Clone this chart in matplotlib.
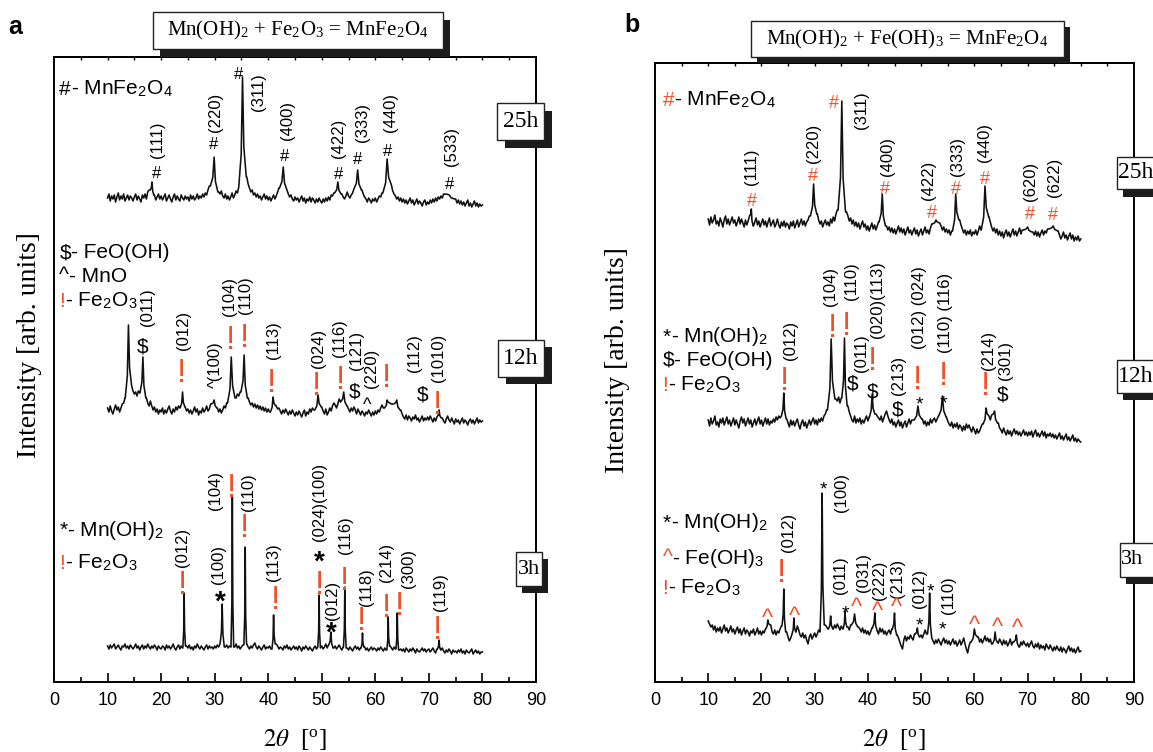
import numpy as np
import matplotlib.pyplot as plt
from matplotlib.patches import Rectangle
from matplotlib.offsetbox import TextArea, HPacker, AnnotationBbox

plt.rcParams['font.family'] = ['Liberation Sans', 'DejaVu Sans']
plt.rcParams['mathtext.fontset'] = 'stix'

W, H = 1153, 752
RED = '#f0502a'
SERIF = ['Liberation Serif', 'DejaVu Serif']

# 2-theta grid of the background readings (10..80 deg, 0.25 deg step)
grid = np.arange(10, 80.001, 0.25)

# ---------------- (a) Mn(OH)2 + Fe2O3 ----------------
a25_base = [484, 488, 481, 486, 483, 487, 480, 485, 489, 482, 486, 483, 488, 481, 484, 487, 482, 486, 484, 481,
            485, 488, 482, 486, 483, 480, 487, 484, 488, 483, 490, 492, 486, 489, 484, 487, 482, 485, 488, 483,
            486, 482, 485, 488, 481, 484, 487, 483, 480, 485, 488, 482, 486, 483, 481, 487, 484, 482, 486, 483,
            485, 481, 487, 483, 486, 482, 484, 488, 483, 486, 484, 488, 485, 489, 487, 492, 496, 500, 503, 510,
            508, 500, 494, 490, 488, 491, 486, 484, 488, 483, 486, 482, 485, 489, 484, 487, 491, 489, 495, 502,
            515, 520, 525, 512, 505, 498, 494, 490, 492, 487, 489, 485, 488, 484, 486, 482, 485, 488, 483, 486,
            482, 485, 481, 484, 487, 483, 486, 490, 494, 500, 510, 515, 505, 498, 492, 488, 485, 487, 483, 481,
            485, 482, 484, 480, 483, 486, 481, 484, 479, 483, 481, 485, 480, 484, 482, 479, 483, 480, 484, 481,
            479, 483, 480, 484, 481, 485, 482, 487, 486, 489, 495, 500, 490, 487, 484, 488, 485, 483, 486, 490,
            486, 484, 487, 489, 493, 500, 508, 505, 498, 495, 492, 488, 485, 483, 480, 484, 482, 479, 483, 481,
            484, 480, 483, 486, 485, 489, 493, 500, 510, 520, 515, 505, 497, 491, 488, 486, 483, 485, 481, 484,
            480, 483, 479, 482, 478, 481, 484, 479, 482, 477, 480, 483, 478, 481, 479, 476, 480, 482, 477, 480,
            478, 482, 479, 483, 480, 484, 481, 485, 483, 486, 484, 488, 490, 487, 489, 486, 484, 487, 483, 481,
            483, 479, 482, 478, 481, 477, 480, 476, 479, 482, 476, 479, 475, 478, 481, 476, 479, 475, 478, 476,
            477]
a25_peaks = [(18.3, 500, 0.35), (29.9, 525, 0.7), (35.2, 605, 0.7), (42.8, 515, 0.7),
             (53.0, 500, 0.6), (56.7, 512, 0.7), (62.2, 523, 0.8), (73.8, 487, 1.0)]

a12_base = [274, 270, 276, 271, 268, 273, 277, 272, 275, 270, 274, 278, 279, 284, 300, 320, 330, 310, 296, 291,
            288, 290, 286, 291, 289, 294, 298, 310, 320, 284, 279, 276, 281, 276, 272, 275, 270, 273, 268, 272,
            270, 274, 268, 272, 269, 273, 276, 271, 268, 273, 270, 275, 272, 276, 274, 300, 290, 284, 275, 271,
            273, 269, 272, 268, 271, 275, 270, 273, 267, 271, 269, 274, 270, 272, 276, 271, 273, 278, 282, 280,
            279, 276, 274, 270, 273, 269, 272, 276, 274, 279, 283, 300, 320, 310, 295, 287, 284, 288, 286, 290,
            293, 300, 310, 300, 288, 284, 280, 277, 279, 275, 278, 274, 277, 273, 276, 272, 275, 271, 274, 270,
            273, 270, 275, 271, 278, 283, 276, 273, 274, 271, 268, 272, 269, 273, 270, 267, 271, 268, 272, 269,
            266, 270, 267, 271, 268, 265, 269, 272, 266, 270, 268, 273, 270, 274, 272, 277, 280, 285, 282, 278,
            275, 271, 268, 273, 267, 270, 274, 271, 276, 279, 277, 274, 278, 283, 280, 287, 282, 285, 279, 276,
            273, 270, 274, 271, 275, 272, 268, 273, 270, 267, 271, 269, 266, 270, 268, 272, 269, 266, 270, 267,
            271, 268, 272, 270, 274, 277, 274, 275, 272, 276, 279, 279, 278, 278, 276, 279, 274, 271, 268, 272,
            268, 265, 263, 267, 262, 266, 264, 261, 265, 263, 267, 262, 264, 260, 263, 266, 261, 264, 262, 265,
            262, 266, 263, 260, 264, 261, 265, 262, 263, 260, 264, 261, 259, 263, 266, 262, 260, 264, 261, 258,
            263, 260, 262, 258, 261, 264, 259, 262, 260, 257, 261, 263, 259, 262, 258, 261, 264, 259, 262, 260,
            261]
a12_peaks = [(13.9, 357, 0.6), (16.6, 325, 0.55), (24.0, 290, 0.45), (29.9, 282, 0.5),
             (33.1, 325, 0.7), (35.5, 327, 0.6), (40.9, 285, 0.5), (49.3, 287, 0.6),
             (54.1, 290, 0.6), (62.2, 282, 0.5), (64.0, 282, 0.6), (71.9, 272, 0.4)]

a3_base = [36, 33, 37, 34, 36, 38, 33, 35, 37, 34, 32, 36, 35, 38, 34, 36, 33, 37, 35, 33,
           35, 38, 34, 36, 32, 35, 37, 33, 36, 34, 38, 35, 33, 36, 34, 37, 35, 32, 36, 34,
           33, 36, 35, 32, 37, 34, 36, 33, 35, 38, 34, 32, 35, 37, 33, 36, 34, 35, 33, 36,
           34, 37, 33, 35, 32, 36, 34, 38, 35, 33, 36, 34, 32, 35, 37, 33, 36, 34, 35, 33,
           36, 34, 37, 35, 38, 33, 36, 38, 35, 37, 34, 36, 35, 33, 37, 35, 38, 34, 36, 33,
           35, 37, 34, 36, 38, 35, 33, 36, 34, 37, 39, 35, 33, 36, 34, 32, 35, 37, 33, 35,
           34, 36, 33, 35, 37, 34, 38, 36, 33, 35, 34, 32, 36, 34, 37, 33, 35, 32, 34, 36,
           33, 35, 32, 36, 34, 31, 35, 33, 36, 34, 32, 35, 33, 31, 34, 36, 33, 35, 32, 34,
           36, 33, 35, 38, 34, 37, 33, 35, 32, 34, 36, 33, 35, 37, 34, 32, 35, 33, 36, 34,
           32, 35, 33, 31, 34, 36, 33, 35, 32, 34, 31, 33, 35, 32, 34, 31, 33, 35, 32, 34,
           33, 31, 34, 32, 35, 33, 31, 34, 32, 35, 33, 36, 34, 32, 35, 33, 31, 34, 32, 33,
           31, 33, 30, 34, 32, 30, 33, 31, 34, 32, 29, 33, 31, 30, 32, 34, 31, 33, 30, 32,
           33, 30, 32, 34, 31, 29, 33, 31, 30, 32, 34, 31, 29, 32, 30, 33, 31, 28, 32, 30,
           31, 29, 32, 30, 33, 29, 31, 28, 32, 30, 29, 31, 33, 28, 30, 32, 29, 31, 28, 30,
           30]
a3_peaks = [(24.3, 89, 0.25), (31.4, 78, 0.4), (33.3, 185, 0.25), (35.7, 135, 0.25),
            (41.0, 67, 0.3), (49.5, 87, 0.25), (51.7, 50, 0.4), (54.3, 95, 0.25),
            (57.6, 49, 0.25), (62.4, 65, 0.25), (64.1, 69, 0.25), (71.9, 42, 0.3)]

# ---------------- (b) Mn(OH)2 + Fe(OH)3 ----------------
b25_base = [463, 457, 465, 459, 462, 467, 458, 461, 456, 464, 460, 455, 462, 466, 458, 463, 457, 461, 465, 459,
            462, 456, 460, 465, 458, 463, 459, 455, 462, 457, 461, 466, 458, 462, 456, 460, 464, 457, 461, 455,
            459, 463, 457, 461, 455, 460, 464, 456, 459, 462, 455, 458, 463, 457, 454, 460, 456, 461, 455, 459,
            457, 453, 460, 456, 461, 454, 458, 462, 455, 459, 463, 457, 461, 456, 460, 462, 466, 490, 485, 478,
            480, 475, 468, 462, 458, 461, 455, 459, 462, 457, 460, 456, 463, 459, 465, 461, 468, 472, 475, 480,
            520, 540, 560, 540, 470, 466, 461, 464, 458, 462, 456, 460, 455, 459, 453, 457, 461, 455, 458, 452,
            456, 451, 455, 459, 453, 457, 452, 456, 460, 470, 490, 480, 470, 462, 456, 452, 455, 450, 454, 449,
            453, 448, 452, 456, 450, 454, 449, 453, 447, 451, 455, 449, 452, 447, 451, 454, 448, 452, 446, 450,
            453, 447, 451, 455, 449, 452, 448, 454, 458, 462, 460, 465, 470, 462, 459, 456, 452, 455, 450, 453,
            449, 452, 447, 451, 455, 460, 470, 480, 475, 462, 457, 453, 449, 452, 447, 451, 448, 452, 446, 450,
            448, 452, 447, 451, 456, 452, 458, 462, 470, 480, 475, 465, 460, 455, 451, 454, 449, 453, 447, 451,
            446, 450, 444, 449, 452, 446, 450, 445, 449, 453, 447, 451, 446, 450, 454, 448, 452, 449, 455, 451,
            456, 452, 458, 454, 450, 447, 451, 446, 450, 445, 449, 452, 447, 451, 449, 453, 450, 452, 455, 451,
            455, 452, 448, 451, 447, 443, 446, 450, 444, 447, 442, 446, 449, 443, 447, 441, 445, 442, 446, 441,
            443]
b25_peaks = [(18.1, 473, 0.35), (29.8, 498, 0.6), (35.1, 581, 0.7), (42.7, 488, 0.6),
             (52.8, 462, 0.7), (56.5, 488, 0.6), (62.0, 496, 0.7), (70.0, 455, 0.8),
             (74.8, 456, 0.9)]

b12_base = [262, 256, 264, 258, 261, 266, 257, 260, 255, 263, 259, 264, 257, 261, 265, 258, 262, 256, 260, 264,
            257, 262, 258, 254, 261, 265, 259, 263, 256, 260, 264, 258, 262, 255, 259, 263, 257, 261, 265, 258,
            262, 256, 260, 264, 258, 263, 257, 261, 259, 263, 260, 265, 262, 266, 264, 266, 280, 285, 270, 263,
            259, 255, 262, 257, 261, 256, 260, 263, 257, 253, 259, 262, 256, 260, 254, 258, 262, 257, 261, 264,
            258, 262, 257, 263, 260, 264, 261, 266, 268, 272, 285, 300, 320, 310, 295, 287, 283, 281, 285, 279,
            284, 289, 300, 310, 300, 276, 270, 266, 262, 260, 266, 259, 263, 260, 264, 258, 262, 259, 263, 266,
            261, 265, 268, 275, 282, 285, 268, 266, 264, 262, 266, 260, 264, 268, 271, 266, 262, 259, 263, 257,
            260, 255, 259, 262, 256, 260, 254, 258, 261, 255, 259, 263, 258, 262, 262, 270, 272, 276, 271, 268,
            265, 263, 258, 261, 256, 260, 257, 263, 259, 262, 264, 260, 263, 266, 284, 286, 282, 276, 270, 265,
            261, 258, 256, 260, 254, 258, 255, 259, 253, 257, 255, 251, 256, 252, 258, 254, 257, 253, 250, 255,
            252, 248, 253, 249, 251, 255, 258, 262, 265, 268, 264, 266, 262, 267, 270, 265, 260, 256, 259, 254,
            252, 249, 254, 250, 247, 252, 248, 251, 246, 250, 253, 248, 251, 247, 250, 246, 249, 252, 247, 250,
            246, 250, 247, 251, 245, 249, 252, 246, 249, 245, 248, 251, 246, 250, 244, 248, 246, 249, 245, 248,
            244, 247, 243, 246, 249, 243, 246, 242, 245, 248, 242, 245, 241, 244, 247, 241, 244, 240, 243, 241,
            240]
b12_peaks = [(24.2, 289, 0.45), (33.1, 343, 0.7), (35.6, 344, 0.5), (40.8, 288, 0.5),
             (49.4, 276, 0.7), (54.0, 286, 0.7), (62.2, 274, 0.55), (63.8, 271, 0.55)]

b3_base = [61, 58, 55, 57, 52, 56, 50, 54, 51, 55, 49, 53, 57, 51, 54, 49, 52, 56, 50, 53,
           48, 52, 55, 49, 53, 47, 51, 54, 48, 52, 50, 46, 51, 49, 53, 47, 50, 54, 48, 51,
           47, 51, 49, 53, 50, 54, 52, 57, 50, 48, 52, 47, 51, 49, 53, 56, 60, 70, 58, 50,
           45, 41, 44, 48, 52, 55, 50, 56, 52, 47, 45, 49, 44, 47, 42, 38, 45, 48, 43, 46,
           49, 45, 48, 52, 50, 53, 60, 70, 57, 55, 53, 56, 52, 56, 53, 57, 54, 58, 55, 52,
           56, 53, 60, 66, 58, 55, 52, 57, 54, 58, 56, 60, 58, 55, 53, 50, 54, 49, 52, 48,
           51, 47, 50, 54, 49, 52, 55, 51, 48, 54, 50, 53, 48, 51, 47, 50, 52, 48, 53, 55,
           58, 54, 47, 44, 40, 36, 33, 42, 46, 41, 45, 43, 47, 44, 42, 48, 52, 46, 43, 45,
           47, 44, 48, 52, 48, 65, 58, 50, 44, 41, 38, 42, 39, 43, 40, 37, 41, 44, 39, 42,
           38, 41, 37, 40, 43, 38, 41, 36, 39, 42, 37, 40, 44, 38, 33, 29, 36, 40, 43, 47,
           50, 44, 41, 45, 40, 43, 39, 42, 46, 41, 44, 40, 43, 38, 45, 48, 44, 41, 39, 43,
           40, 37, 42, 38, 41, 36, 39, 43, 37, 40, 36, 39, 42, 38, 35, 40, 37, 41, 38, 36,
           39, 35, 38, 41, 36, 34, 38, 35, 39, 33, 37, 34, 36, 32, 38, 35, 33, 37, 34, 31,
           35, 32, 36, 33, 31, 35, 30, 34, 32, 29, 33, 36, 31, 34, 30, 33, 29, 32, 35, 30,
           31]
b3_peaks = [(21.2, 62, 0.4), (24.2, 93, 0.35), (26.1, 64, 0.35), (31.4, 189, 0.4),
            (33.0, 66, 0.4), (35.7, 71, 0.35), (37.5, 68, 0.6), (41.3, 69, 0.45),
            (45.0, 69, 0.4), (49.3, 54, 0.4), (51.6, 89, 0.4), (60.0, 53, 0.6),
            (63.9, 50, 0.5), (67.9, 47, 0.5)]

# ---------------- peak labels: (text, 2theta, height) ----------------
a25_hkl = [('(111)', 19.3, 542), ('(220)', 30.2, 570), ('(311)', 38.2, 590), ('(400)', 43.6, 562),
           ('(422)', 53.1, 544), ('(333)', 57.6, 559), ('(440)', 62.8, 570), ('(533)', 74.2, 535)]
a25_sym = [('#', 19.2, 510), ('#', 29.8, 539), ('#', 34.4, 609), ('#', 43.0, 527),
           ('#', 53.1, 509), ('#', 56.7, 524), ('#', 62.3, 532), ('#', 73.8, 499)]

a12_hkl = [('(011)', 17.4, 375), ('(012)', 24.2, 352), ('^(100)', 30.2, 317), ('(104)', 32.8, 385),
           ('(110)', 35.8, 387), ('(113)', 41.0, 342), ('(024)', 49.4, 334), ('(116)', 53.4, 344),
           ('(121)', 56.5, 332), ('(220)', 59.3, 314), ('(112)', 67.4, 329), ('(1010)', 71.8, 324)]
a12_sym = [('$', 16.6, 337), ('!', 23.9, 312), ('!', 33.0, 345), ('!', 35.6, 347), ('!', 40.6, 302),
           ('!', 49.1, 299), ('!', 53.6, 305), ('$', 56.1, 292), ('^', 58.5, 281), ('!', 62.1, 307),
           ('$', 68.9, 289), ('!', 71.6, 280)]

a3_hkl = [('(012)', 24.0, 135), ('(100)', 30.7, 117), ('(104)', 30.2, 192), ('(110)', 36.3, 190),
          ('(113)', 41.0, 120), ('(024)(100)', 49.6, 180), ('(012)', 52.0, 82), ('(116)', 54.5, 147),
          ('(118)', 58.3, 95), ('(214)', 62.1, 120), ('(300)', 66.2, 114), ('(119)', 72.1, 90)]
a3_sym = [('!', 24.0, 100), ('*', 31.1, 88), ('!', 33.2, 197), ('!', 35.6, 157), ('!', 41.3, 85),
          ('*', 49.6, 128), ('!', 49.6, 100), ('*', 51.8, 57), ('!', 54.3, 104), ('!', 57.4, 64),
          ('!', 62.1, 77), ('!', 64.5, 79), ('!', 71.6, 55)]

b25_hkl = [('(111)', 18.2, 515), ('(220)', 29.8, 539), ('(311)', 38.8, 572), ('(400)', 43.6, 525),
           ('(422)', 51.4, 502), ('(333)', 56.9, 525), ('(440)', 61.9, 539), ('(620)', 70.6, 501),
           ('(622)', 75.1, 505)]
b25_sym = [('#', 18.2, 482), ('#', 29.7, 507), ('#', 33.6, 580), ('#', 43.2, 494), ('#', 52.1, 470),
           ('#', 56.6, 494), ('#', 61.9, 504), ('#', 70.4, 469), ('#', 74.8, 468)]

b12_hkl = [('(012)', 25.4, 342), ('(104)', 32.9, 396), ('(110)', 37.0, 401), ('(011)', 38.8, 329),
           ('(020)(113)', 41.8, 382), ('(213)', 45.8, 307), ('(012) (024)', 49.7, 374),
           ('(110) (116)', 54.5, 369), ('(214)', 62.6, 332), ('(301)', 65.8, 322)]
b12_sym = [('!', 24.3, 304), ('!', 33.3, 357), ('!', 36.0, 359), ('$', 37.2, 300), ('!', 40.8, 324),
           ('$', 40.8, 292), ('$', 45.6, 274), ('!', 49.4, 305), ('*', 49.6, 284), ('!', 54.2, 309),
           ('*', 54.2, 285), ('!', 62.1, 299), ('$', 65.4, 289)]

b3_hkl = [('(012)', 25.0, 150), ('(100)', 35.0, 189), ('(011)', 34.8, 107), ('(031)', 39.1, 109),
          ('(222)', 42.2, 102), ('(213)', 45.6, 104), ('(012)', 49.7, 94), ('(110)', 55.2, 87)]
b3_sym = [('^', 21.1, 69), ('!', 23.7, 112), ('^', 26.2, 71), ('*', 31.6, 199), ('*', 35.8, 75),
          ('^', 37.8, 80), ('^', 41.8, 76), ('^', 45.3, 80), ('*', 49.6, 63), ('*', 51.8, 97),
          ('*', 54.0, 59), ('^', 60.0, 62), ('^', 64.3, 60), ('^', 68.1, 59)]

SUB = r'$_{\mathregular{%s}}$'
phase_a = [(596, '#', '- MnFe' + SUB % 2 + 'O' + SUB % 4, 'black'),
           (432, '$', '- FeO(OH)', 'black'),
           (409, '^', '- MnO', 'black'),
           (384, '!', '- Fe' + SUB % 2 + 'O' + SUB % 3, RED),
           (155, '*', '- Mn(OH)' + SUB % 2, 'black'),
           (122, '!', '- Fe' + SUB % 2 + 'O' + SUB % 3, RED)]
phase_b = [(585, '#', '- MnFe' + SUB % 2 + 'O' + SUB % 4, RED),
           (348, '*', '- Mn(OH)' + SUB % 2, 'black'),
           (325, '$', '- FeO(OH)', 'black'),
           (300, '!', '- Fe' + SUB % 2 + 'O' + SUB % 3, RED),
           (162, '*', '- Mn(OH)' + SUB % 2, 'black'),
           (127, '^', '- Fe(OH)' + SUB % 3, RED),
           (97, '!', '- Fe' + SUB % 2 + 'O' + SUB % 3, RED)]

title_a = 'Mn(OH)' + SUB % 2 + ' + Fe' + SUB % 2 + 'O' + SUB % 3 + ' = MnFe' + SUB % 2 + 'O' + SUB % 4
title_b = 'Mn(OH)' + SUB % 2 + ' + Fe(OH)' + SUB % 3 + ' = MnFe' + SUB % 2 + 'O' + SUB % 4


def pattern(base, peaks):
    """Background readings joined with the read peak maxima."""
    base = np.asarray(base, float)
    assert len(base) == len(grid)
    pts = [(x, y) for x, y in zip(grid, base)
           if all(abs(x - c) >= w for c, _, w in peaks)]
    for c, top, w in peaks:
        yl = base[grid <= c - w][-1]
        yr = base[grid >= c + w][0]
        pts += [(c - w, yl), (c - 0.35 * w, yl + 0.3 * (top - yl)), (c, top),
                (c + 0.35 * w, yr + 0.3 * (top - yr)), (c + w, yr)]
    pts.sort()
    return np.array(pts).T


GLYPH_MID = {'!': 0.36, '#': 0.35, '$': 0.35, '*': 0.58, '^': 0.52}


def put_sym(ax, sym, x, y, fs, color, weight='normal'):
    # y is the glyph centre; axes units are pixels so shift by the font size
    ax.text(x, y - GLYPH_MID[sym] * fs * 100 / 72, sym, fontsize=fs, color=color,
            fontweight=weight, ha='center', va='baseline')


def put_phase(ax, x, y, sym, rest, col):
    box = HPacker(children=[TextArea(sym, textprops=dict(fontsize=15, color=col)),
                            TextArea(rest, textprops=dict(fontsize=15, color='black'))],
                  align='baseline', pad=0, sep=0)
    ax.add_artist(AnnotationBbox(box, (x, y), xycoords='data', box_alignment=(0, 0.5),
                                 frameon=False, pad=0))


def fig_box(x0, y0, x1, y1, dx, dy, text, fs, tx=None):
    fig.add_artist(Rectangle(((x0 + dx) / W, 1 - (y1 + dy) / H), (x1 - x0) / W, (y1 - y0) / H,
                             transform=fig.transFigure, facecolor='#1c1c1c', edgecolor='none',
                             zorder=5))
    fig.add_artist(Rectangle((x0 / W, 1 - y1 / H), (x1 - x0) / W, (y1 - y0) / H,
                             transform=fig.transFigure, facecolor='white', edgecolor='#222222',
                             lw=1.0, zorder=6))
    if tx is None:
        fig.text((x0 + x1) / 2 / W, 1 - (y0 + y1) / 2 / H, text, family=SERIF, fontsize=fs,
                 ha='center', va='center', zorder=7)
    else:
        fig.text(tx / W, 1 - (y0 + y1) / 2 / H, text, family=SERIF, fontsize=fs,
                 ha='left', va='center', zorder=7)


def style_axes(ax, top):
    ax.set_xlim(0, 90)
    ax.set_ylim(0, top)
    ax.set_xticks(range(0, 91, 10))
    ax.set_xticks(range(5, 90, 10), minor=True)
    ax.set_yticks([])
    ax.tick_params(axis='x', which='major', direction='in', length=6.5, width=1.2,
                   labelsize=13, pad=7)
    ax.tick_params(axis='x', which='minor', direction='in', length=3.5, width=1.2)
    for s in ax.spines.values():
        s.set_linewidth(1.4)
    top_ax = ax.secondary_xaxis('top')
    top_ax.set_xticks(np.arange(5, 90, 5))
    top_ax.tick_params(direction='in', length=2.5, width=1.0, labeltop=False)
    top_ax.spines['top'].set_linewidth(1.4)


fig = plt.figure(figsize=(W / 100, H / 100), dpi=100)
ax_a = fig.add_axes([54 / W, 1 - 682 / H, 482 / W, 625 / H])
ax_b = fig.add_axes([655 / W, 1 - 682 / H, 479 / W, 619 / H])
style_axes(ax_a, 625)
style_axes(ax_b, 619)

for base, peaks in [(a25_base, a25_peaks), (a12_base, a12_peaks), (a3_base, a3_peaks)]:
    x, y = pattern(base, peaks)
    ax_a.plot(x, y, color='#111111', lw=1.15)
for base, peaks in [(b25_base, b25_peaks), (b12_base, b12_peaks), (b3_base, b3_peaks)]:
    x, y = pattern(base, peaks)
    ax_b.plot(x, y, color='#111111', lw=1.15)

for hkl in [a25_hkl, a12_hkl, a3_hkl]:
    for t, x, y in hkl:
        ax_a.text(x, y, t, rotation=90, fontsize=12, ha='center', va='center')
for hkl in [b25_hkl, b12_hkl, b3_hkl]:
    for t, x, y in hkl:
        ax_b.text(x, y, t, rotation=90, fontsize=12, ha='center', va='center')

# symbol styles differ between the two panels
sty_a = {'!': (24, RED, 'normal'), '#': (12, 'black', 'normal'), '$': (15, 'black', 'normal'),
         '*': (20, 'black', 'bold'), '^': (13, 'black', 'normal')}
sty_b = {'!': (24, RED, 'normal'), '#': (13, RED, 'normal'), '$': (15, 'black', 'normal'),
         '*': (14, 'black', 'normal'), '^': (17, RED, 'normal')}
for syms in [a25_sym, a12_sym, a3_sym]:
    for s, x, y in syms:
        put_sym(ax_a, s, x, y, *sty_a[s])
for syms in [b25_sym, b12_sym, b3_sym]:
    for s, x, y in syms:
        put_sym(ax_b, s, x, y, *sty_b[s])

for y, s, rest, col in phase_a:
    put_phase(ax_a, 1.0, y - 3, s, rest, col)
for y, s, rest, col in phase_b:
    put_phase(ax_b, 1.4, y - 3, s, rest, col)

# reaction titles and annealing-time tags
fig_box(153, 12, 443, 49, 7, 8, title_a, 15)
fig_box(751, 21, 1064, 57, 6, 6, title_b, 15)
fig_box(497, 103, 544, 140, 8, 8, '25h', 17)
fig_box(498, 340, 544, 377, 8, 7, '12h', 17)
fig_box(516, 552, 542, 586, 6, 7, '3h', 16)
fig_box(1117, 157, 1170, 189, 6, 8, '25h', 17, tx=1118)
fig_box(1117, 360, 1170, 393, 6, 7, '12h', 17, tx=1118)
fig_box(1120, 543, 1170, 577, 6, 7, '3h', 16, tx=1121)

fig.text(15 / W, 1 - 27 / H, 'a', fontsize=18, fontweight='bold', ha='center', va='center')
fig.text(632 / W, 1 - 25 / H, 'b', fontsize=18, fontweight='bold', ha='center', va='center')

xlab = r'$2\theta$  [$^{\mathregular{o}}$]'
fig.text(295 / W, 1 - 740 / H, xlab, family=SERIF, fontsize=18, ha='center', va='center')
fig.text(894 / W, 1 - 740 / H, xlab, family=SERIF, fontsize=18, ha='center', va='center')
fig.text(30 / W, 1 - 345 / H, 'Intensity [arb. units]', family=SERIF, fontsize=20,
         rotation=90, ha='center', va='center')
fig.text(617 / W, 1 - 360 / H, 'Intensity [arb. units]', family=SERIF, fontsize=20,
         rotation=90, ha='center', va='center')

fig.savefig('out.png', dpi=100)
